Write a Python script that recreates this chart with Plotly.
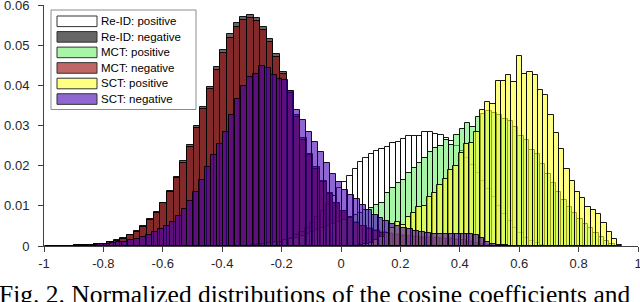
import numpy as np
import plotly.graph_objects as go

# ---------------- data: histogram bins (left edge of first bin, bin width) and normalized counts
reid_pos_start, reid_pos_width = -0.3025, 0.018
reid_pos = [0.0002, 0.0003, 0.0004, 0.0006, 0.0008, 0.0011, 0.0016, 0.0021, 0.0028, 0.0036,
            0.0046, 0.0058, 0.0072, 0.0088, 0.0105, 0.0125, 0.0145, 0.0160, 0.0175, 0.0192,
            0.0208, 0.0220, 0.0230, 0.0237, 0.0241, 0.0247, 0.0256, 0.0259, 0.0266, 0.0274,
            0.0274, 0.0275, 0.0285, 0.0283, 0.0280, 0.0277, 0.0270, 0.0262, 0.0250, 0.0236,
            0.0220, 0.0202, 0.0183, 0.0163, 0.0142, 0.0121, 0.0100, 0.0080, 0.0062, 0.0046,
            0.0032, 0.0021, 0.0013, 0.0007, 0.0003, 0.0001]

reid_neg_start, reid_neg_width = -0.989, 0.0224
reid_neg = [0.0001, 0.0001, 0.0001, 0.0001, 0.0002, 0.0002, 0.0003, 0.0004, 0.0006, 0.0010,
            0.0014, 0.0019, 0.0028,
            0.0037, 0.0049, 0.0067, 0.0085, 0.0108, 0.0138, 0.0172, 0.0211, 0.0251, 0.0299,
            0.0347, 0.0396, 0.0445, 0.0489, 0.0528, 0.0554, 0.0571, 0.0575, 0.0568, 0.0546,
            0.0516, 0.0478, 0.0434, 0.0386, 0.0326, 0.0270, 0.0230, 0.0196, 0.0163, 0.0133,
            0.0108, 0.0088, 0.0072, 0.0060, 0.0051, 0.0044, 0.0039, 0.0035, 0.0032, 0.0030,
            0.0028, 0.0026, 0.0024, 0.0023, 0.0022, 0.0021, 0.0020, 0.0019, 0.0017, 0.0015,
            0.0012, 0.0008, 0.0005, 0.0003, 0.0001]

mct_pos_start, mct_pos_width = -0.3025, 0.018
mct_pos = [0.0003, 0.0004, 0.0005, 0.0007, 0.0009, 0.0011, 0.0014, 0.0017, 0.0021, 0.0025,
           0.0030, 0.0035, 0.0040, 0.0045, 0.0050, 0.0055, 0.0060, 0.0065, 0.0071, 0.0077,
           0.0083, 0.0089, 0.0095, 0.0101, 0.0108, 0.0131, 0.0144, 0.0156, 0.0164, 0.0181,
           0.0193, 0.0206, 0.0218, 0.0235, 0.0243, 0.0250, 0.0264, 0.0252, 0.0276, 0.0291,
           0.0307, 0.0296, 0.0320, 0.0329, 0.0335, 0.0331, 0.0326, 0.0316, 0.0310, 0.0297,
           0.0275, 0.0264, 0.0240, 0.0228, 0.0205, 0.0180, 0.0158, 0.0135, 0.0115, 0.0098,
           0.0082, 0.0068, 0.0055, 0.0044, 0.0033, 0.0022, 0.0012, 0.0005]

mct_neg_start, mct_neg_width = -0.989, 0.0224
mct_neg = [0.0001, 0.0001, 0.0001, 0.0001, 0.0002, 0.0002, 0.0003, 0.0004, 0.0006, 0.0009,
           0.0013, 0.0018, 0.0027,
           0.0036, 0.0048, 0.0065, 0.0083, 0.0106, 0.0135, 0.0169, 0.0207, 0.0247, 0.0294,
           0.0341, 0.0390, 0.0437, 0.0481, 0.0519, 0.0546, 0.0563, 0.0567, 0.0560, 0.0539,
           0.0509, 0.0471, 0.0428, 0.0381, 0.0321, 0.0265, 0.0226, 0.0192, 0.0160, 0.0130,
           0.0106, 0.0086, 0.0070, 0.0058, 0.0049, 0.0042, 0.0037, 0.0033, 0.0030, 0.0028,
           0.0026, 0.0024, 0.0022, 0.0021, 0.0020, 0.0019, 0.0018, 0.0017, 0.0016, 0.0014,
           0.0011, 0.0007, 0.0004, 0.0002, 0.0001]

sct_pos_start, sct_pos_width = 0.0576, 0.0178
sct_pos = [0.0002, 0.0004, 0.0008, 0.0014, 0.0022, 0.0032, 0.0045, 0.0060, 0.0052, 0.0073,
           0.0083, 0.0096, 0.0100, 0.0121, 0.0133, 0.0152, 0.0167, 0.0188, 0.0198, 0.0231,
           0.0254, 0.0257, 0.0285, 0.0339, 0.0359, 0.0354, 0.0412, 0.0410, 0.0426, 0.0409,
           0.0472, 0.0428, 0.0432, 0.0426, 0.0389, 0.0376, 0.0326, 0.0281, 0.0241, 0.0191,
           0.0163, 0.0135, 0.0119, 0.0096, 0.0090, 0.0080, 0.0058, 0.0036, 0.0017, 0.0003]

sct_neg_start, sct_neg_width = -0.997, 0.02
sct_neg = [0.0001, 0.0001, 0.0001, 0.0001, 0.0001, 0.0001, 0.0002, 0.0002, 0.0003, 0.0004,
           0.0005, 0.0007, 0.0009, 0.0011, 0.0014, 0.0018, 0.0022, 0.0027, 0.0034, 0.0043,
           0.0050, 0.0061, 0.0075, 0.0093, 0.0112, 0.0134, 0.0165, 0.0196, 0.0226, 0.0254,
           0.0285, 0.0326, 0.0365, 0.0399, 0.0422, 0.0428, 0.0448, 0.0443, 0.0426, 0.0415,
           0.0413, 0.0385, 0.0339, 0.0314, 0.0285, 0.0260, 0.0235, 0.0206, 0.0180, 0.0160,
           0.0140, 0.0128, 0.0118, 0.0102, 0.0090, 0.0078, 0.0070, 0.0062, 0.0056, 0.0050,
           0.0045, 0.0042, 0.0038, 0.0035, 0.0033, 0.0031, 0.0030, 0.0030, 0.0030, 0.0031,
           0.0031, 0.0030, 0.0028, 0.0020, 0.0010, 0.0005, 0.0003, 0.0002, 0.0001]

series_names = ["Re-ID: positive", "Re-ID: negative", "MCT: positive",
                "MCT: negative", "SCT: positive", "SCT: negative"]

x_tick_vals = [-1, -0.8, -0.6, -0.4, -0.2, 0, 0.2, 0.4, 0.6, 0.8, 1]
x_tick_text = ["-1", "-0.8", "-0.6", "-0.4", "-0.2", "0", "0.2", "0.4", "0.6", "0.8", "1"]
y_tick_vals = [0, 0.01, 0.02, 0.03, 0.04, 0.05, 0.06]
y_tick_text = ["0", "0.01", "0.02", "0.03", "0.04", "0.05", "0.06"]

caption = "Fig. 2. Normalized distributions of the cosine coefficients and"

# ---------------- styling
face_colors = ["rgba(255,255,255,0.6)", "rgba(0,0,0,0.6)", "rgba(110,238,110,0.6)",
               "rgba(150,0,0,0.6)", "rgba(255,255,43,0.6)", "rgba(70,0,177,0.6)"]
edge_color = "rgba(0,0,0,0.9)"

series = [
    (reid_pos_start, reid_pos_width, reid_pos),
    (reid_neg_start, reid_neg_width, reid_neg),
    (mct_pos_start, mct_pos_width, mct_pos),
    (mct_neg_start, mct_neg_width, mct_neg),
    (sct_pos_start, sct_pos_width, sct_pos),
    (sct_neg_start, sct_neg_width, sct_neg),
]

fig = go.Figure()
for (start, w, vals), name, col in zip(series, series_names, face_colors):
    centers = start + w * (np.arange(len(vals)) + 0.5)
    fig.add_trace(go.Bar(
        x=centers, y=vals, width=w, name=name,
        marker=dict(color=col, line=dict(color=edge_color, width=1)),
        showlegend=False, hoverinfo="skip",
    ))

W, H = 640, 302
L, R, T, B = 44, 2, 5, 56
pw, ph = W - L - R, H - T - B


def px2x(px):
    return (px - L) / pw


def py2y(py):
    return (H - B - py) / ph


shapes = []
annotations = []
# legend box
shapes.append(dict(type="rect", xref="paper", yref="paper",
                   x0=px2x(51), x1=px2x(196), y0=py2y(109.5), y1=py2y(10),
                   fillcolor="white", line=dict(color="#8c8c8c", width=1), layer="above"))
for i, (name, col) in enumerate(zip(series_names, face_colors)):
    yc = 21.3 + 15.55 * i
    shapes.append(dict(type="rect", xref="paper", yref="paper",
                       x0=px2x(57), x1=px2x(97), y0=py2y(yc + 5.3), y1=py2y(yc - 5.3),
                       fillcolor=col, line=dict(color="#333333", width=1), layer="above"))
    annotations.append(dict(text=name, xref="paper", yref="paper", x=px2x(98.5), y=py2y(yc),
                            xanchor="left", yanchor="middle", showarrow=False,
                            font=dict(family="Liberation Sans, Arial, sans-serif", size=11.5,
                                      color="#000000")))

annotations.append(dict(text=caption, xref="paper", yref="paper", x=px2x(-3), y=py2y(278),
                        xanchor="left", yanchor="top", showarrow=False,
                        font=dict(family="Liberation Serif, Times New Roman, serif", size=25.5,
                                  color="#000000")))

axis_font = dict(family="Liberation Sans, Arial, sans-serif", size=13, color="#262626")
fig.update_layout(
    width=W, height=H,
    margin=dict(l=L, r=R, t=T, b=B, pad=0),
    barmode="overlay", bargap=0,
    plot_bgcolor="white", paper_bgcolor="white",
    shapes=shapes, annotations=annotations,
    showlegend=False, hovermode=False,
    xaxis=dict(range=[-1, 1.000001], tickvals=x_tick_vals, ticktext=x_tick_text,
               automargin=False, ticklabeloverflow="allow",
               showline=True, linecolor="#404040", linewidth=1,
               ticks="outside", ticklen=5, tickcolor="#404040", tickwidth=1,
               showgrid=False, zeroline=False, tickfont=axis_font,
               ticklabelstandoff=0),
    yaxis=dict(range=[0, 0.0600001], tickvals=y_tick_vals, ticktext=y_tick_text,
               automargin=False, ticklabeloverflow="allow",
               showline=True, linecolor="#404040", linewidth=1,
               ticks="outside", ticklen=5, tickcolor="#404040", tickwidth=1,
               showgrid=False, zeroline=False, tickfont=axis_font,
               ticklabelstandoff=6),
)

fig.write_html("out.html", config={"displayModeBar": False},
               post_script="document.body.style.margin='0';document.body.style.overflow='hidden';")
